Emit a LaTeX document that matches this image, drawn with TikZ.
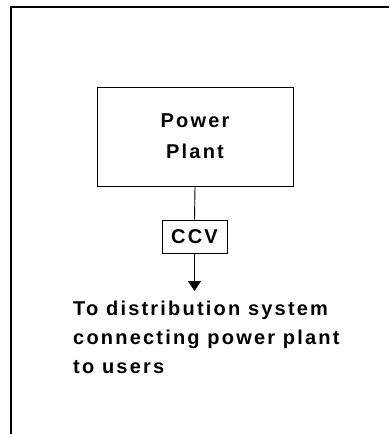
\documentclass[tikz,border=0pt]{standalone}
\usepackage{fontspec}
\setmainfont{Liberation Sans}[LetterSpace=11]
\usetikzlibrary{arrows.meta}
\begin{document}
\begin{tikzpicture}[x=1pt,y=1pt,
  boxstyle/.style={draw,line width=1pt,inner sep=0pt,align=center},
  frameline/.style={line width=2pt},
  conn/.style={line width=0.9pt}]
\useasboundingbox (0,0) rectangle (389,-434);
\draw[frameline] (11,-434) -- (11,-6.5) -- (389,-6.5);
\node[boxstyle,minimum width=196pt,minimum height=99pt,
  font=\bfseries\fontsize{20}{31}\selectfont] (pp) at (195,-136.5) {Power\\Plant};
\node[boxstyle,minimum width=65pt,minimum height=33pt,
  font=\bfseries\fontsize{20}{24}\selectfont] (ccv) at (194.5,-236.5) {CCV};
\coordinate (tip) at (194.5,-291);
\draw[conn] (pp.south) -- (ccv.north);
\draw[conn,-{Triangle[width=13pt,length=10pt]}] (ccv.south) -- (tip);
\node[anchor=base west,align=left,inner sep=0pt,
  font=\bfseries\fontsize{20}{29}\selectfont] (txt) at (73,-373)
  {To distribution system\\connecting power plant\\to users};
\end{tikzpicture}
\end{document}
